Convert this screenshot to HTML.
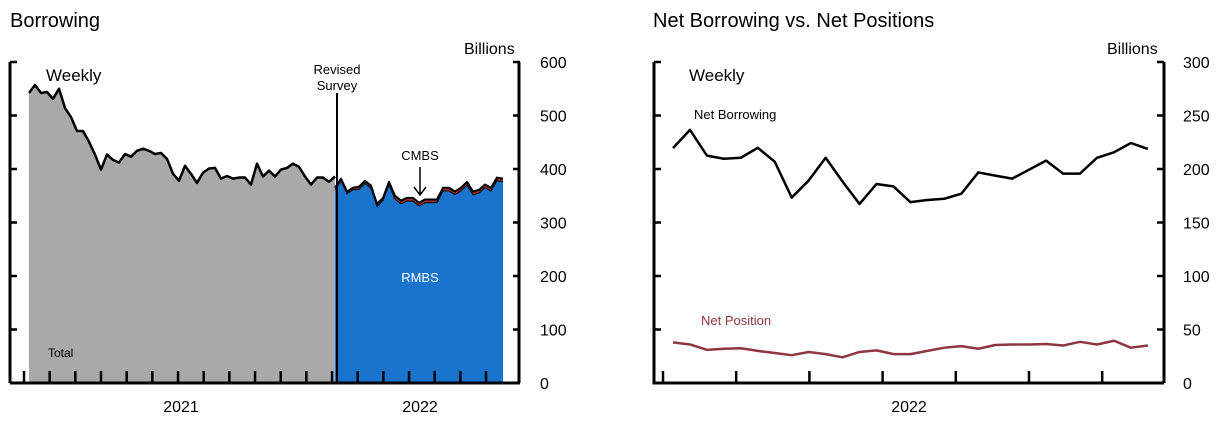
<!DOCTYPE html>
<html><head><meta charset="utf-8"><style>
body{margin:0;background:#fff;}
svg text{font-family:"Liberation Sans",Arial,sans-serif;}
</style></head><body>
<svg id="c" width="1227" height="422" viewBox="0 0 1227 422" xmlns="http://www.w3.org/2000/svg">
<text x="10" y="27" font-size="20">Borrowing</text>
<text x="464" y="54" font-size="16">Billions</text>
<text x="653" y="27" font-size="20">Net Borrowing vs. Net Positions</text>
<text x="1107" y="54" font-size="16">Billions</text>
<g id="L"></g><g id="R"></g>
</svg>
<script>
const leftTicks=[0,100,200,300,400,500,600];
const totalWeekly=[542,557,542,544,531,550,514,497,471,471,451,427,399,427,417,412,428,423,434,438,434,428,430,419,391,378,406,391,374,393,401,402,382,387,382,384,384,371,410,386,397,386,399,402,410,404,386,371,384,384,376,386];
const revisedTotal=[365,382,358,365,367,378,369,335,346,376,350,341,346,346,337,343,343,343,365,365,358,365,376,358,361,371,365,384,382];
const cmbs=[4,4,4,4,5,5,5,5,5,5,6,6,6,6,6,6,6,6,6,6,6,6,6,6,6,6,6,6,6];
const yearLabels=["2021","2022"];
const rightTicks=[0,50,100,150,200,250,300];
const netBorrowing=[219.5,236.6,212.5,209.6,210.5,219.8,206.8,173.3,189.2,210.5,188.2,167.3,186,183.7,169,171,172.2,176.9,196.8,193.8,191,199.4,207.8,195.7,195.7,210.5,215.6,224.3,218.7];
const netPosition=[38,36,31,32,32.5,30,28,26,29,27,24,29,30.5,27,27,30,33,34.5,32,35.5,36,36,36.5,35,38.5,36,39.5,33,35];

const NS="http://www.w3.org/2000/svg";
function mk(p,tag,attrs,txt){const e=document.createElementNS(NS,tag);for(const k in attrs)e.setAttribute(k,attrs[k]);if(txt!==undefined)e.textContent=txt;p.appendChild(e);return e;}
const L=document.getElementById('L'),R=document.getElementById('R');
const ly=v=>383-v*321/600;
const lx=i=>29+i*6;
let pts=totalWeekly.map((v,i)=>lx(i)+','+ly(v));
let a=mk(L,'polygon',{points:lx(0)+',383 '+pts.join(' ')+' '+lx(totalWeekly.length-1)+',383',fill:'#a9a9a9'});


let l=mk(L,'polyline',{points:pts.join(' '),fill:'none',stroke:'#000','stroke-width':2.5,'stroke-linejoin':'round'});


const off=totalWeekly.length-1;
let tp=revisedTotal.map((v,i)=>lx(off+i)+','+ly(v));
let rp=revisedTotal.map((v,i)=>lx(off+i)+','+ly(v-cmbs[i]));
let cm=mk(L,'polygon',{points:lx(off)+',383 '+tp.join(' ')+' '+lx(off+revisedTotal.length-1)+',383',fill:'#a52a2a'});


let rm=mk(L,'polygon',{points:lx(off)+',383 '+rp.join(' ')+' '+lx(off+revisedTotal.length-1)+',383',fill:'#1a73cc'});


let tl=mk(L,'polyline',{points:tp.join(' '),fill:'none',stroke:'#000','stroke-width':2,'stroke-linejoin':'round'});


let rl=mk(L,'polyline',{points:rp.join(' '),fill:'none',stroke:'#111','stroke-width':1.2});


let ax=mk(L,'path',{d:'M10,62V383M10,383H520M519,62V383',stroke:'#000','stroke-width':3,fill:'none'});


leftTicks.forEach(v=>{const y=ly(v);
 mk(L,'path',{d:`M10,${y}H17M513,${y}H520`,stroke:'#000','stroke-width':2.5});
 let t=mk(L,'text',{x:540,y:y+6,'font-size':16},v);
 
 
});
for(let k=0;k<19;k++){const x=24+k*25.67;mk(L,'path',{d:`M${x},371V383`,stroke:'#000','stroke-width':2.5});}
let y1=mk(L,'text',{x:181,y:412,'font-size':16,'text-anchor':'middle'},yearLabels[0]);


let y2=mk(L,'text',{x:420,y:412,'font-size':16,'text-anchor':'middle'},yearLabels[1]);


mk(L,'path',{d:'M337,93V383',stroke:'#000','stroke-width':2});
let rv=mk(L,'text',{x:337,y:74,'font-size':13,'text-anchor':'middle'});


mk(rv,'tspan',{x:337,dy:0},'Revised');mk(rv,'tspan',{x:337,dy:16},'Survey');
let w=mk(L,'text',{x:46,y:81,'font-size':17},'Weekly');


let cl=mk(L,'text',{x:420,y:160,'font-size':13,'text-anchor':'middle'},'CMBS');


mk(L,'path',{d:'M420,167V194M414,187L420,195L426,187',stroke:'#000','stroke-width':1.5,fill:'none'});
let rb=mk(L,'text',{x:420,y:282,'font-size':13,'text-anchor':'middle',fill:'#fff'},'RMBS');


let to=mk(L,'text',{x:48,y:357,'font-size':12},'Total');


const ry=v=>383-v*321/300;
const rx=i=>673+i*16.96;
let ra=mk(R,'path',{d:'M654,62V383H1164M1164,62V383',stroke:'#000','stroke-width':3,fill:'none'});


rightTicks.forEach(v=>{const y=ry(v);
 mk(R,'path',{d:`M654,${y}H661M1157,${y}H1164`,stroke:'#000','stroke-width':2.5});
 let t=mk(R,'text',{x:1183,y:y+6,'font-size':16},v);
 
 
});
for(let k=0;k<7;k++){const x=663+k*73.2;mk(R,'path',{d:`M${x},371V383`,stroke:'#000','stroke-width':2.5});}
let nb=mk(R,'polyline',{points:netBorrowing.map((v,i)=>rx(i)+','+ry(v)).join(' '),fill:'none',stroke:'#000','stroke-width':2.5,'stroke-linejoin':'round'});


let np=mk(R,'polyline',{points:netPosition.map((v,i)=>rx(i)+','+ry(v)).join(' '),fill:'none',stroke:'#8e3641','stroke-width':2.5,'stroke-linejoin':'round'});


let rwk=mk(R,'text',{x:689,y:81,'font-size':17},'Weekly');


let nbl=mk(R,'text',{x:694,y:119,'font-size':13},'Net Borrowing');


let npl=mk(R,'text',{x:701,y:325,'font-size':13,fill:'#8e3641'},'Net Position');


let y3=mk(R,'text',{x:909,y:412,'font-size':16,'text-anchor':'middle'},yearLabels[1]);


</script>
</body></html>
